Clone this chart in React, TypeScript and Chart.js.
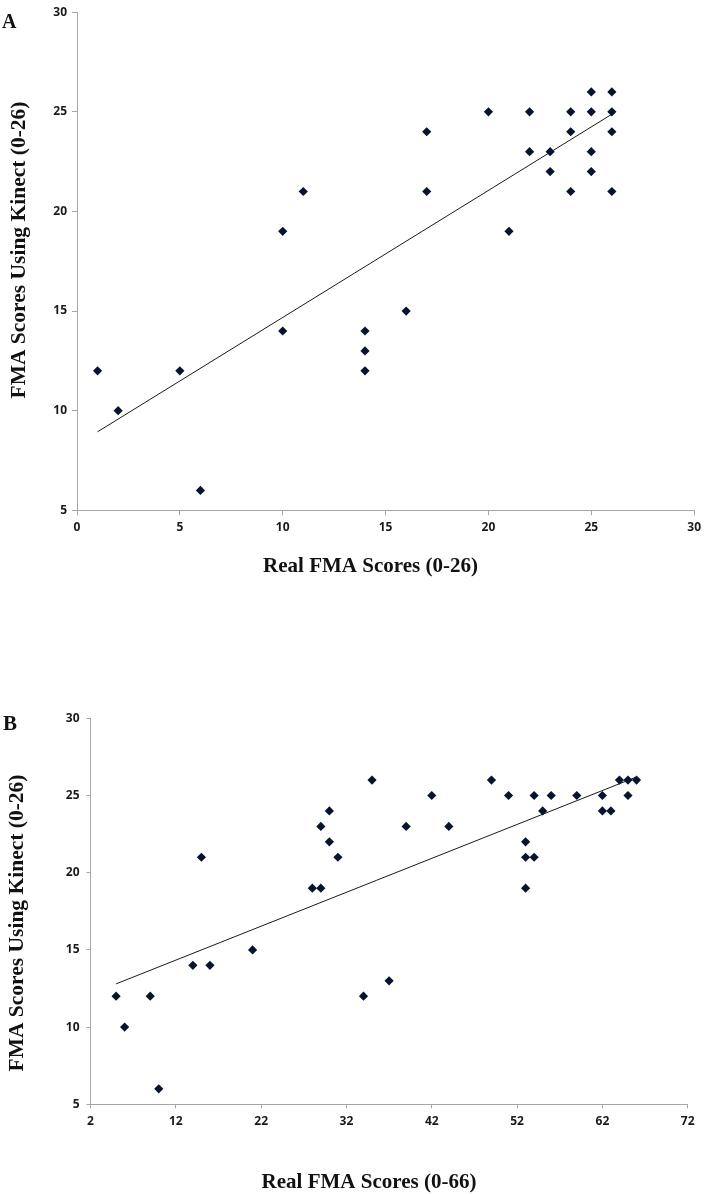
import React, { useEffect, useRef } from 'react';
import { Chart, registerables } from 'chart.js';

Chart.register(...registerables);

// ---- Panel A data ----
const realA = [1, 2, 5, 6, 10, 10, 11, 14, 14, 14, 16, 17, 17, 20, 21, 22, 22, 23, 23, 24, 24, 24, 25, 25, 25, 25, 26, 26, 26, 26];
const kinectA = [12, 10, 12, 6, 14, 19, 21, 14, 13, 12, 15, 24, 21, 25, 19, 25, 23, 23, 22, 25, 24, 21, 26, 25, 23, 22, 26, 25, 24, 21];
const trendAX = [1, 26];
const trendAY = [8.94, 24.88];
const xTicksA = [0, 5, 10, 15, 20, 25, 30];
const yTicksA = [5, 10, 15, 20, 25, 30];

// ---- Panel B data ----
const realB = [5, 6, 9, 10, 14, 15, 16, 21, 28, 29, 29, 30, 30, 31, 34, 35, 37, 39, 42, 44, 49, 51, 53, 53, 53, 54, 54, 55, 56, 59, 62, 62, 63, 64, 65, 65, 66];
const kinectB = [12, 10, 12, 6, 14, 21, 14, 15, 19, 23, 19, 24, 22, 21, 12, 26, 13, 23, 25, 23, 26, 25, 22, 21, 19, 25, 21, 24, 25, 25, 25, 24, 24, 26, 25, 26, 26];
const trendBX = [5, 66];
const trendBY = [12.8, 26.2];
const xTicksB = [2, 12, 22, 32, 42, 52, 62, 72];
const yTicksB = [5, 10, 15, 20, 25, 30];

const titleA = { panel: 'A', x: 'Real FMA Scores (0-26)', y: 'FMA Scores Using Kinect (0-26)' };
const titleB = { panel: 'B', x: 'Real FMA Scores (0-66)', y: 'FMA Scores Using Kinect (0-26)' };

type Layout = {
  width: number;
  height: number;
  padTop: number;
  padRight: number;
  yWidth: number;
  xHeight: number;
  tickLen: number;
  yPad: number;
  xPad: number;
  panelPos: [number, number, number];
  xTitlePos: [number, number, number];
  yTitlePos: [number, number, number];
};

const textPlugin = {
  id: 'panelTexts',
  afterDraw(chart: any, _args: any, opts: any) {
    const ctx = chart.ctx;
    const t = opts.texts;
    const L: Layout = opts.layout;
    if (!t || !L) return;
    ctx.save();
    ctx.fillStyle = '#111';
    ctx.textBaseline = 'alphabetic';
    ctx.font = `bold ${L.panelPos[2]}px "Liberation Serif", "Times New Roman", serif`;
    ctx.textAlign = 'left';
    ctx.fillText(t.panel, L.panelPos[0], L.panelPos[1]);
    ctx.font = `bold ${L.xTitlePos[2]}px "Liberation Serif", "Times New Roman", serif`;
    ctx.textAlign = 'center';
    ctx.fillText(t.x, L.xTitlePos[0], L.xTitlePos[1]);
    ctx.translate(L.yTitlePos[0], L.yTitlePos[1]);
    ctx.rotate(-Math.PI / 2);
    ctx.font = `bold ${L.yTitlePos[2]}px "Liberation Serif", "Times New Roman", serif`;
    ctx.textAlign = 'center';
    ctx.fillText(t.y, 0, 0);
    ctx.restore();
  },
};

function makeConfig(
  xs: number[], ys: number[], tx: number[], ty: number[],
  xTicks: number[], yTicks: number[], texts: any, L: Layout
): any {
  const axisColor = '#a6a6a6';
  const tickFont = { family: '"Open Sans", "DejaVu Sans", sans-serif', weight: 'bold' as const, size: 12 };
  return {
    type: 'scatter',
    data: {
      datasets: [
        {
          label: 'Scores',
          data: xs.map((x, i) => ({ x, y: ys[i] })),
          pointStyle: 'rectRot',
          pointRadius: 4.6,
          pointBorderWidth: 0,
          backgroundColor: '#08142e',
          borderColor: '#08142e',
          order: 1,
        },
        {
          label: 'Trend',
          data: tx.map((x, i) => ({ x, y: ty[i] })),
          showLine: true,
          pointRadius: 0,
          borderColor: '#1a1a1a',
          borderWidth: 1,
          order: 2,
        },
      ],
    },
    options: {
      responsive: false,
      animation: false,
      devicePixelRatio: 1,
      layout: { padding: { top: L.padTop, right: L.padRight, left: 0, bottom: 0 } },
      plugins: {
        legend: { display: false },
        tooltip: { enabled: false },
        panelTexts: { texts, layout: L },
      },
      scales: {
        x: {
          type: 'linear',
          min: xTicks[0],
          max: xTicks[xTicks.length - 1],
          afterBuildTicks: (s: any) => { s.ticks = xTicks.map((v) => ({ value: v })); },
          afterFit: (s: any) => { s.height = L.xHeight; },
          grid: { display: true, drawOnChartArea: false, drawTicks: true, tickLength: L.tickLen, color: axisColor },
          border: { display: true, color: axisColor, width: 1 },
          ticks: { font: tickFont, color: '#1a1a1a', padding: L.xPad, maxRotation: 0, autoSkip: false },
        },
        y: {
          type: 'linear',
          min: yTicks[0],
          max: yTicks[yTicks.length - 1],
          afterBuildTicks: (s: any) => { s.ticks = yTicks.map((v) => ({ value: v })); },
          afterFit: (s: any) => { s.width = L.yWidth; },
          grid: { display: true, drawOnChartArea: false, drawTicks: true, tickLength: L.tickLen, color: axisColor },
          border: { display: true, color: axisColor, width: 1 },
          ticks: { font: tickFont, color: '#1a1a1a', padding: L.yPad, autoSkip: false },
        },
      },
    },
    plugins: [textPlugin],
  };
}

const layoutA: Layout = {
  width: 706, height: 600, padTop: 5, padRight: 8, yWidth: 77, xHeight: 89.7,
  tickLen: 5, yPad: 5, xPad: 5,
  panelPos: [2, 28, 20], xTitlePos: [370.5, 571.5, 21], yTitlePos: [25, 250, 21.5],
};
const layoutB: Layout = {
  width: 706, height: 594, padTop: 118.3, padRight: 18.3, yWidth: 90.5, xHeight: 89.7,
  tickLen: 4, yPad: 7, xPad: 6,
  panelPos: [3, 130, 21], xTitlePos: [369, 588, 21], yTitlePos: [23, 323, 21.5],
};

function Panel(props: { cfg: () => any; L: Layout; top: number }) {
  const ref = useRef<HTMLCanvasElement | null>(null);
  useEffect(() => {
    if (!ref.current) return;
    const chart = new Chart(ref.current, props.cfg());
    return () => chart.destroy();
  }, []);
  return (
    <canvas
      ref={ref}
      width={props.L.width}
      height={props.L.height}
      style={{ position: 'absolute', left: 0, top: props.top, width: props.L.width, height: props.L.height }}
    />
  );
}

export default function App() {
  return (
    <div style={{ position: 'absolute', left: 0, top: 0, width: 706, height: 1194, background: '#fff' }}>
      <Panel
        L={layoutA}
        top={0}
        cfg={() => makeConfig(realA, kinectA, trendAX, trendAY, xTicksA, yTicksA, titleA, layoutA)}
      />
      <Panel
        L={layoutB}
        top={600}
        cfg={() => makeConfig(realB, kinectB, trendBX, trendBY, xTicksB, yTicksB, titleB, layoutB)}
      />
    </div>
  );
}
